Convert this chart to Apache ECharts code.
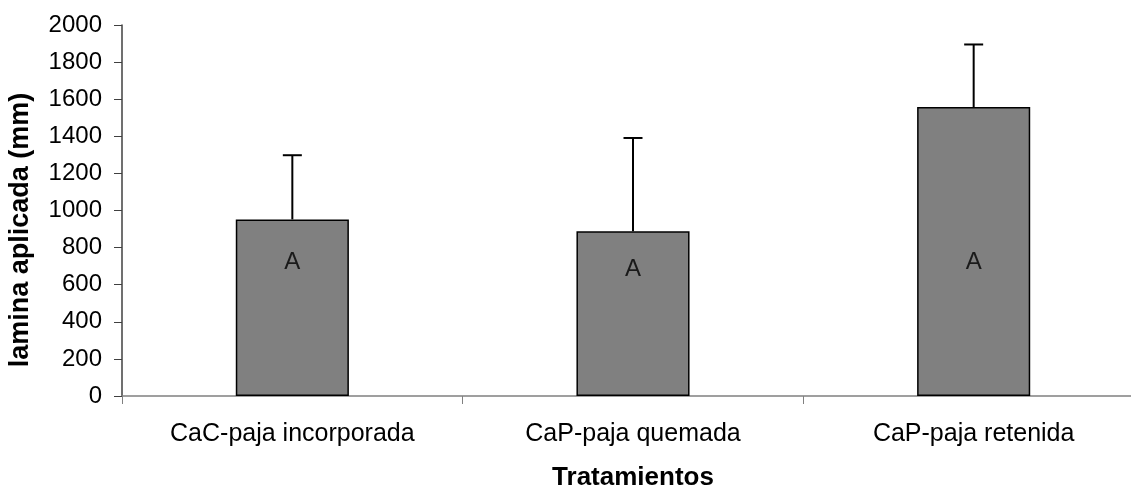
<!DOCTYPE html>
<html>
<head>
<meta charset="utf-8">
<style>
  html, body { margin: 0; padding: 0; background: #fff; overflow: hidden; }
  #chart { width: 1131px; height: 487px; }
</style>
<script src="https://cdn.jsdelivr.net/npm/echarts@6/dist/echarts.min.js"></script>
</head>
<body>
<div id="chart"></div>
<script>
// Treatments and applied water depth (mm), with upper error bars
const categories = ['CaC-paja incorporada', 'CaP-paja quemada', 'CaP-paja retenida'];
const meanValues = [952, 888, 1558];
const errorTops = [1298, 1391, 1895];
const groupLetters = ['A', 'A', 'A'];
const letterHeights = [719, 680, 719];
const yTicks = { min: 0, max: 2000, step: 200 };

const FONT = '"Liberation Sans", Arial, Helvetica, sans-serif';

const chart = echarts.init(document.getElementById('chart'));

const option = {
  animation: false,
  backgroundColor: '#ffffff',
  grid: { left: 122, top: 25, width: 1022, height: 371, containLabel: false, outerBoundsMode: 'none' },
  xAxis: {
    type: 'category',
    data: categories,
    axisLine: { show: true, lineStyle: { color: '#808080', width: 1.5 } },
    axisTick: { show: true, length: 8, lineStyle: { color: '#808080', width: 1 } },
    axisLabel: { color: '#000', fontFamily: FONT, fontSize: 25, margin: 26 },
    name: 'Tratamientos',
    nameLocation: 'middle',
    nameGap: 69,
    nameTextStyle: { color: '#000', fontFamily: FONT, fontSize: 26, fontWeight: 'bold' }
  },
  yAxis: {
    type: 'value',
    min: yTicks.min,
    max: yTicks.max,
    interval: yTicks.step,
    splitLine: { show: false },
    axisLine: { show: true, lineStyle: { color: '#404040', width: 1.5 } },
    axisTick: { show: true, length: 8, lineStyle: { color: '#404040', width: 1 } },
    axisLabel: { color: '#000', fontFamily: FONT, fontSize: 24, margin: 20, formatter: v => String(v) }
  },
  graphic: [{
    type: 'text',
    x: 21,
    y: 230,
    rotation: Math.PI / 2,
    style: {
      text: 'lamina aplicada (mm)',
      fill: '#000',
      font: 'bold 27px ' + FONT,
      textAlign: 'center',
      textVerticalAlign: 'middle'
    }
  }],
  series: [
    {
      type: 'bar',
      data: meanValues,
      barWidth: '33.2%',
      itemStyle: { color: '#808080', borderColor: '#000', borderWidth: 1.5 },
      z: 2
    },
    {
      type: 'custom',
      data: meanValues.map((v, i) => [i, v, errorTops[i]]),
      renderItem: function (params, api) {
        const base = api.coord([api.value(0), api.value(1)]);
        const top = api.coord([api.value(0), api.value(2)]);
        const cap = 9.5;
        const style = { stroke: '#000', lineWidth: 2 };
        return {
          type: 'group',
          children: [
            { type: 'line', shape: { x1: base[0], y1: base[1], x2: top[0], y2: top[1] }, style: style },
            { type: 'line', shape: { x1: top[0] - cap, y1: top[1], x2: top[0] + cap, y2: top[1] }, style: style }
          ]
        };
      },
      z: 3
    },
    {
      type: 'scatter',
      data: letterHeights.map((v, i) => ({ value: [i, v], label: { formatter: groupLetters[i] } })),
      symbolSize: 0,
      label: {
        show: true,
        position: 'inside',
        color: '#000',
        fontFamily: FONT,
        fontSize: 24
      },
      z: 4
    }
  ]
};

chart.setOption(option);
</script>
</body>
</html>
